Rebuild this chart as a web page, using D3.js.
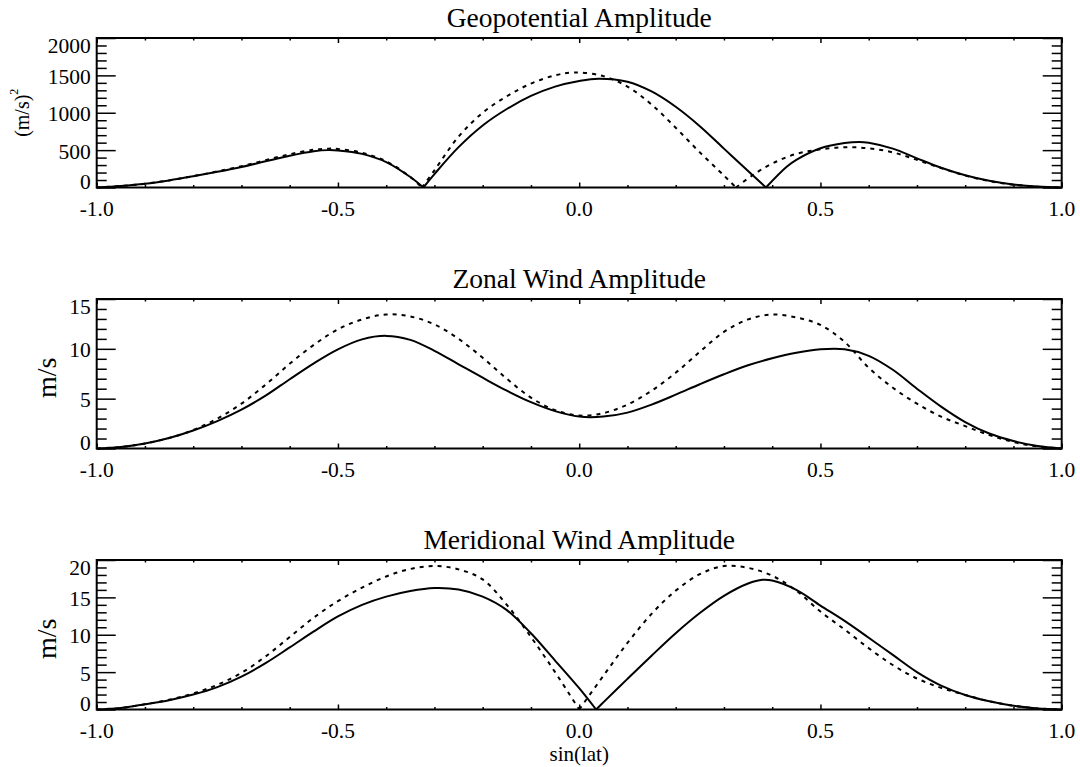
<!DOCTYPE html>
<html>
<head>
<meta charset="utf-8">
<script src="https://cdn.jsdelivr.net/npm/d3@7"></script>
<style>
  body { margin: 0; background: #fff; }
  svg { display: block; }
  text { font-family: "Liberation Serif", "Times New Roman", Times, serif; fill: #000; }
</style>
</head>
<body>
<svg id="chart" width="1080" height="767"></svg>
<script>
// ---- x axis (shared by all three panels) ----
const xTicks = [-1.0, -0.5, 0.0, 0.5, 1.0];
const xTickLabels = ["-1.0", "-0.5", "0.0", "0.5", "1.0"];
const xTitle = "sin(lat)";

// ---- panel titles and y axes ----
const panelTitles = ["Geopotential Amplitude", "Zonal Wind Amplitude", "Meridional Wind Amplitude"];
const geoYTicks = [0, 500, 1000, 1500, 2000];
const geoYTickLabels = ["0", "500", "1000", "1500", "2000"];
const zonalYTicks = [0, 5, 10, 15];
const zonalYTickLabels = ["0", "5", "10", "15"];
const merYTicks = [0, 5, 10, 15, 20];
const merYTickLabels = ["0", "5", "10", "15", "20"];

// ---- geopotential amplitude, (m/s)^2 ----
const geoSolidX = [-1.0, -0.95, -0.9, -0.85, -0.8, -0.75, -0.7, -0.65, -0.6, -0.55, -0.52, -0.5, -0.45, -0.4, -0.35, -0.323,
  -0.3, -0.25, -0.2, -0.15, -0.1, -0.05, 0.0, 0.04, 0.1, 0.15, 0.2, 0.25, 0.3, 0.35, 0.387,
  0.43, 0.45, 0.5, 0.55, 0.58, 0.6, 0.65, 0.7, 0.75, 0.8, 0.85, 0.9, 0.95, 1.0];
const geoSolidY = [0, 20, 50, 95, 150, 210, 275, 350, 425, 485, 500, 495, 450, 340, 140, 0,
  180, 540, 830, 1050, 1225, 1350, 1425, 1455, 1415, 1285, 1080, 820, 520, 220, 0,
  277, 370, 525, 595, 610, 600, 520, 390, 265, 165, 90, 40, 12, 0];
const geoDashedX = [-1.0, -0.95, -0.9, -0.85, -0.8, -0.75, -0.7, -0.65, -0.6, -0.55, -0.52, -0.5, -0.45, -0.4, -0.35, -0.326,
  -0.3, -0.25, -0.2, -0.15, -0.1, -0.05, -0.01, 0.05, 0.1, 0.15, 0.2, 0.25, 0.3, 0.325,
  0.36, 0.4, 0.45, 0.5, 0.55, 0.6, 0.65, 0.7, 0.75, 0.8, 0.85, 0.9, 0.95, 1.0];
const geoDashedY = [0, 20, 50, 95, 152, 215, 285, 365, 445, 505, 520, 515, 465, 350, 140, 0,
  230, 680, 1000, 1220, 1390, 1500, 1540, 1490, 1350, 1110, 800, 470, 160, 0,
  167, 320, 450, 510, 538, 525, 470, 370, 260, 160, 85, 38, 10, 0];

// ---- zonal wind amplitude, m/s ----
const zonalX = [-1.0, -0.95, -0.9, -0.85, -0.8, -0.75, -0.7, -0.65, -0.6, -0.55, -0.5, -0.45, -0.4, -0.35, -0.3,
  -0.25, -0.2, -0.15, -0.1, -0.05, 0.0, 0.05, 0.1, 0.15, 0.2, 0.25, 0.3, 0.35, 0.4, 0.45,
  0.5, 0.55, 0.6, 0.65, 0.7, 0.75, 0.8, 0.85, 0.9, 0.95, 1.0];
const zonalSolidY = [0, 0.15, 0.5, 1.05, 1.8, 2.75, 3.9, 5.3, 6.95, 8.55, 9.95, 10.95, 11.3, 10.9, 9.8,
  8.45, 7.1, 5.8, 4.65, 3.75, 3.2, 3.2, 3.6, 4.4, 5.4, 6.45, 7.45, 8.35, 9.05, 9.6,
  9.95, 9.95, 9.3, 7.9, 6.0, 4.2, 2.65, 1.5, 0.75, 0.25, 0];
const zonalDashedY = [0, 0.15, 0.5, 1.05, 1.85, 3.0, 4.5, 6.4, 8.5, 10.4, 11.95, 12.95, 13.45, 13.25, 12.45,
  11.0, 9.1, 7.0, 5.1, 3.85, 3.3, 3.55, 4.4, 5.8, 7.6, 9.7, 11.7, 12.95, 13.45, 13.15,
  12.4, 10.7, 8.1, 6.1, 4.5, 3.2, 2.25, 1.35, 0.65, 0.2, 0];

// ---- meridional wind amplitude, m/s ----
const merSolidX = [-1.0, -0.95, -0.9, -0.85, -0.8, -0.75, -0.7, -0.65, -0.6, -0.55, -0.5, -0.45, -0.4, -0.35, -0.3,
  -0.25, -0.2, -0.15, -0.1, -0.05, 0.0, 0.035, 0.05, 0.1, 0.15, 0.2, 0.25, 0.3, 0.35, 0.38,
  0.4, 0.45, 0.5, 0.55, 0.6, 0.65, 0.7, 0.75, 0.8, 0.85, 0.9, 0.95, 1.0];
const merSolidY = [0, 0.2, 0.7, 1.25, 2.0, 3.0, 4.4, 6.2, 8.3, 10.45, 12.45, 14.0, 15.1, 15.85, 16.25,
  16.05, 15.1, 13.3, 10.2, 6.55, 2.85, 0, 0.95, 4.1, 7.2, 10.2, 12.9, 15.2, 16.85, 17.35,
  17.25, 16.0, 13.9, 11.85, 9.6, 7.3, 5.0, 3.2, 1.95, 1.1, 0.5, 0.15, 0];
const merDashedX = [-1.0, -0.95, -0.9, -0.85, -0.8, -0.75, -0.7, -0.65, -0.6, -0.55, -0.5, -0.45, -0.4, -0.35, -0.3,
  -0.25, -0.2, -0.15, -0.1, -0.05, 0.0, 0.05, 0.1, 0.15, 0.2, 0.25, 0.3, 0.35, 0.4, 0.45,
  0.5, 0.55, 0.6, 0.65, 0.7, 0.75, 0.8, 0.85, 0.9, 0.95, 1.0];
const merDashedY = [0, 0.2, 0.7, 1.3, 2.15, 3.3, 4.9, 7.1, 9.7, 12.3, 14.5, 16.3, 17.8, 18.8, 19.2,
  18.75, 17.4, 14.0, 9.7, 5.0, 0, 4.5, 8.9, 12.8, 15.9, 18.1, 19.2, 18.95, 17.9, 15.9,
  13.1, 10.7, 8.2, 5.95, 4.15, 2.9, 1.95, 1.1, 0.5, 0.15, 0];

// ---- layout ----
const svg = d3.select("#chart");
const plotLeft = 96.7, plotRight = 1061.7, plotHeight = 149.5;
const panelTops = [38, 299, 560];
const tickFont = 21.5;

const x = d3.scaleLinear().domain([-1, 1]).range([plotLeft, plotRight]);
const xMinor = d3.range(-10, 11).map(i => i / 10).filter(v => !xTicks.some(t => Math.abs(t - v) < 1e-9));

const panels = [
  { title: panelTitles[0], yMax: 2000, yTicks: geoYTicks, yLabels: geoYTickLabels, minorStep: 100,
    yTitle: "(m/s)", yTitleSup: "2", yTitleSize: 20, yTitleX: 21.7, yTitleShift: 0,
    solid: [geoSolidX, geoSolidY], dashed: [geoDashedX, geoDashedY] },
  { title: panelTitles[1], yMax: 15, yTicks: zonalYTicks, yLabels: zonalYTickLabels, minorStep: 1,
    yTitle: "m/s", yTitleSup: null, yTitleSize: 28, yTitleX: 46.7, yTitleShift: 4,
    solid: [zonalX, zonalSolidY], dashed: [zonalX, zonalDashedY] },
  { title: panelTitles[2], yMax: 20, yTicks: merYTicks, yLabels: merYTickLabels, minorStep: 1,
    yTitle: "m/s", yTitleSup: null, yTitleSize: 28, yTitleX: 46.7, yTitleShift: 4,
    solid: [merSolidX, merSolidY], dashed: [merDashedX, merDashedY] }
];

// Split a curve at interior zeros so the |amplitude| cusps stay sharp.
function segments(xs, ys) {
  const pts = xs.map((v, i) => [v, ys[i]]);
  const out = [];
  let cur = [];
  pts.forEach((p, i) => {
    cur.push(p);
    if (p[1] === 0 && i > 0 && i < pts.length - 1) {
      out.push(cur);
      cur = [p];
    }
  });
  out.push(cur);
  return out;
}

panels.forEach((p, k) => {
  const top = panelTops[k];
  const bottom = top + plotHeight;
  const y = d3.scaleLinear().domain([0, p.yMax]).range([bottom, top]);
  const g = svg.append("g");

  const line = d3.line().x(d => x(d[0])).y(d => Math.min(y(d[1]), bottom))
    .curve(d3.curveCatmullRom.alpha(0.5));

  // curves
  segments(p.solid[0], p.solid[1]).forEach(seg => {
    g.append("path").attr("d", line(seg)).attr("fill", "none")
      .attr("stroke", "#000").attr("stroke-width", 2).attr("stroke-linejoin", "round");
  });
  segments(p.dashed[0], p.dashed[1]).forEach(seg => {
    g.append("path").attr("d", line(seg)).attr("fill", "none")
      .attr("stroke", "#000").attr("stroke-width", 2).attr("stroke-dasharray", "4,5");
  });

  // ticks (inward, on all four sides)
  const yMinor = d3.range(0, p.yMax + 1e-9, p.minorStep).filter(v => !p.yTicks.includes(v));
  const axes = [
    [d3.axisBottom(x).tickValues(xTicks).tickSize(-5), `translate(0,${bottom})`],
    [d3.axisBottom(x).tickValues(xMinor).tickSize(-2.5), `translate(0,${bottom})`],
    [d3.axisTop(x).tickValues(xTicks).tickSize(-5), `translate(0,${top})`],
    [d3.axisTop(x).tickValues(xMinor).tickSize(-2.5), `translate(0,${top})`],
    [d3.axisLeft(y).tickValues(p.yTicks).tickSize(-19), `translate(${plotLeft},0)`],
    [d3.axisLeft(y).tickValues(yMinor).tickSize(-10), `translate(${plotLeft},0)`],
    [d3.axisRight(y).tickValues(p.yTicks).tickSize(-19), `translate(${plotRight},0)`],
    [d3.axisRight(y).tickValues(yMinor).tickSize(-10), `translate(${plotRight},0)`]
  ];
  axes.forEach(([ax, tr]) => {
    const a = g.append("g").attr("transform", tr).call(ax.tickFormat(""));
    a.select(".domain").remove();
    a.selectAll("line").attr("stroke", "#000").attr("stroke-width", 1.5);
  });

  // frame
  g.append("rect").attr("x", plotLeft).attr("y", top)
    .attr("width", plotRight - plotLeft).attr("height", plotHeight)
    .attr("fill", "none").attr("stroke", "#000").attr("stroke-width", 2);

  // x tick labels
  g.selectAll(".xl").data(xTicks).enter().append("text")
    .attr("x", d => x(d)).attr("y", bottom + 28)
    .attr("text-anchor", "middle").style("font-size", tickFont + "px")
    .text((d, i) => xTickLabels[i]);

  // y tick labels (end labels kept inside the axis span)
  g.selectAll(".yl").data(p.yTicks).enter().append("text")
    .attr("x", plotLeft - 6)
    .attr("y", d => Math.min(Math.max(y(d) + 1, top + 7.5), bottom - 6.5))
    .attr("dy", "0.35em")
    .attr("text-anchor", "end").style("font-size", tickFont + "px")
    .text((d, i) => p.yLabels[i]);

  // title
  g.append("text").attr("x", (plotLeft + plotRight) / 2).attr("y", top - 11)
    .attr("text-anchor", "middle").style("font-size", "27.5px").text(p.title);

  // y title
  const yt = g.append("text")
    .attr("transform", `translate(${p.yTitleX},${(top + bottom) / 2 + p.yTitleShift}) rotate(-90)`)
    .attr("text-anchor", "middle").attr("dominant-baseline", "central")
    .style("font-size", p.yTitleSize + "px").text(p.yTitle);
  if (p.yTitleSup) {
    yt.append("tspan").attr("dy", -8).style("font-size", "12px").text(p.yTitleSup);
  }

  if (k === panels.length - 1) {
    g.append("text").attr("x", (plotLeft + plotRight) / 2).attr("y", 761)
      .attr("text-anchor", "middle").style("font-size", "21px").text(xTitle);
  }
});
</script>
</body>
</html>
